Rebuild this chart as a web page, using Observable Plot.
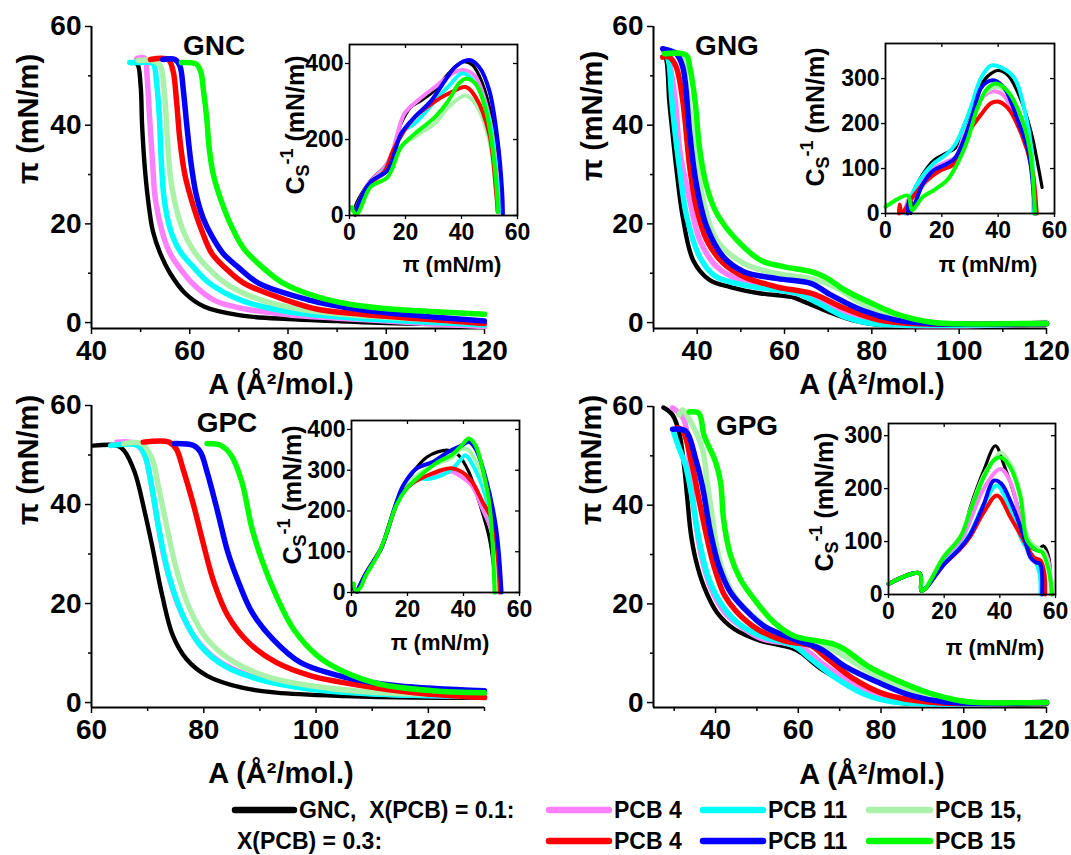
<!DOCTYPE html>
<html><head><meta charset="utf-8">
<script src="https://cdn.jsdelivr.net/npm/d3@7"></script>
<script src="https://cdn.jsdelivr.net/npm/@observablehq/plot@0.6"></script>
<style>
body{margin:0;background:#fff;}
#root{position:relative;width:1071px;height:855px;overflow:hidden;background:#fff;}
#root svg{position:absolute;left:0;top:0;}
</style></head><body><div id="root"></div>
<script>
// ---------- series ----------
const seriesNames = ["GNC", "PCB 4 (X=0.1)", "PCB 11 (X=0.1)", "PCB 15 (X=0.1)", "PCB 4 (X=0.3)", "PCB 11 (X=0.3)", "PCB 15 (X=0.3)"];
const seriesColors = ["#000000", "#ff80ff", "#00ffff", "#aaf2aa", "#ff0000", "#0000ff", "#00ff00"];
const legendRow1 = ["GNC,\u00a0\u00a0X(PCB) = 0.1:", "PCB 4", "PCB 11", "PCB 15,"];
const legendRow2 = ["X(PCB) = 0.3:", "PCB 4", "PCB 11", "PCB 15"];

// ---------- tick labels ----------
const piTicks = [0, 20, 40, 60];
const piMinor = [10, 30, 50];
const insetPiTicks = [0, 20, 40, 60];

// ---------- GNC : pi-A isotherms [A, pi] ----------
const gncIso = [
  [[48.2,52.6],[49.3,52.4],[50,48],[50.3,40],[50.8,32],[51.5,25],[52.5,18.5],[54,14],[56,10],[59,6],[63,3.2],[70,1.5],[80,0.7],[90,0.3],[100,-0.1],[110,-0.3],[120,-0.4]],
  [[49.2,53.5],[50.8,53.6],[51.3,50],[51.8,42],[52.4,33],[53,25],[54.5,18],[56,14],[58,11],[61,7.5],[65,4.5],[70,3],[80,1.6],[90,0.9],[100,0.3],[110,-0.3],[120,-0.8]],
  [[47.8,52.7],[50,52.7],[52.5,52.5],[53.2,49],[53.8,42],[54.2,33],[54.8,25],[56,19],[58,14.5],[60.8,11.2],[64,8],[70.5,4.5],[80,2.2],[90,1.2],[100,0.5],[110,0],[120,-0.5]],
  [[49.5,53.1],[52.5,53.1],[54,52],[54.8,47],[55.4,38],[56,30],[56.9,24.7],[58.5,19],[60.5,15],[63.6,11.2],[68,7.5],[74.8,4.5],[82,2.8],[90,1.8],[100,1.1],[110,0.5],[120,0]],
  [[52,53.3],[55.6,53.3],[56.6,51],[57.3,45],[58,37],[59,30],[60.4,24.7],[62.5,18.5],[64.5,14],[67.1,11.2],[71,8],[79.8,4.5],[86,2.7],[95,1.7],[105,0.9],[112,0.4],[120,-0.2]],
  [[54.5,53.3],[57,53.3],[58,52],[58.7,47],[59.4,40],[60.3,32],[61.3,26],[62.8,21],[64.5,17.5],[66.8,14],[69.9,11.2],[74,8],[84.6,4.5],[92,3],[100,2],[110,1.1],[120,0.3]],
  [[58.3,52.7],[61.3,52.4],[62.2,51],[62.8,47],[63.4,42],[64,35],[64.8,30],[66.4,24.7],[68.5,19.5],[71,15],[74.8,11.2],[79,8],[86,5.2],[92,3.8],[99,2.9],[110,2.2],[120,1.7]]
];
// GNC : compression modulus [pi, Cs^-1]
const gncCs = [
  [[2,2],[2,22],[7.5,92],[12.4,127],[14.8,154],[18.4,242],[22,286],[25.7,303],[30.5,330],[35.4,374],[40.2,404],[43.9,396],[47.5,347],[51.2,242],[53.6,110],[54.6,4]],
  [[2,2],[2.5,20],[7.5,90],[12.4,125],[15,160],[19.6,268],[24.5,303],[30.5,338],[37.8,378],[41.5,382],[45,365],[49.9,259],[53,92],[54.2,10]],
  [[2,2],[2.5,18],[7.5,85],[12.4,118],[15.5,165],[19.6,224],[23.3,242],[31.8,312],[36,345],[40.2,374],[45,347],[49.9,251],[52.9,66],[53.5,10]],
  [[2,2],[2.5,15],[7.5,82],[12.4,112],[15.5,160],[19.6,189],[23.3,207],[27,225],[30.5,242],[35.4,286],[41.5,316],[45,294],[49.9,198],[52.3,66],[52.9,10]],
  [[2,2],[2.5,15],[7.5,85],[12.4,115],[15.5,170],[19.6,224],[23.3,259],[29.3,294],[35.4,321],[41.5,338],[45,312],[49.9,215],[52.3,66],[52.9,10]],
  [[2,2],[2.5,18],[7.5,88],[13.6,119],[18.4,215],[23.3,259],[29.3,303],[34.2,356],[37.8,391],[42.7,409],[46.3,391],[49.9,330],[52.9,198],[54.5,66],[54.8,4]],
  [[0.8,22],[1.2,13],[2.7,4],[7.5,75],[13.6,101],[18.4,180],[23.3,215],[30.5,259],[35.4,303],[39,347],[41.5,360],[45,347],[48.7,277],[51.2,171],[52.6,66],[53,9]]
];

// ---------- GNG ----------
const gngIso = [
  [[32.1,55.5],[33,53],[33.6,45],[34.4,38],[35.2,31.5],[36.7,21.4],[39.1,12.6],[42.9,8.6],[47.6,7.2],[54.6,5.9],[61.6,5.2],[64.6,4.2],[70,2.2],[75.5,0.5],[81,-0.4],[120,-0.4]],
  [[32.5,55],[33.5,53],[35,45],[36,35],[38.3,24.8],[40.6,16.7],[44.5,11.3],[50.7,8.2],[58.4,6.6],[66.2,5.2],[74,1.8],[81.7,-0.2],[120,-0.2]],
  [[32.8,55.2],[33.5,53],[34.2,45],[35,38],[36,31],[37.6,21.5],[40.6,13.3],[44,9.5],[50.7,7.6],[58.4,6.6],[63,5.9],[67.8,3.9],[74,1.1],[80,-0.2],[120,-0.2]],
  [[33,55],[36.5,54.2],[37.5,48.4],[38.5,42],[39.5,35],[41.4,24.8],[44.5,16.7],[50.7,12],[58.4,9.9],[66.2,8.9],[71.6,7.2],[77.8,3.8],[85.6,1.1],[93.3,0],[120,0]],
  [[32.1,53.8],[33.6,53.8],[35.2,51.8],[36.7,45],[38.3,31.5],[39.8,23.4],[42.2,16.7],[46,12],[50.7,9.3],[58.4,7.2],[66.2,5.9],[74,2.8],[81.7,0.5],[89.5,-0.2],[120,-0.2]],
  [[32.1,55.5],[35.2,54.5],[36.7,51.8],[38.3,38.3],[39.8,28.1],[42.2,19.4],[46,13.3],[50.7,10.3],[58.4,8.9],[66.2,7.9],[70,5.9],[77.8,2.5],[85.6,0.5],[93.3,-0.2],[120,-0.2]],
  [[32.5,54.5],[37.5,54.2],[38.3,51.8],[39.5,45],[40.6,35],[42.2,27.5],[44.5,22.1],[49.1,16.7],[54.6,12.6],[60,11.3],[66.2,10.3],[69.3,9.2],[74,6.5],[80.2,3.8],[86.4,1.5],[93.3,0.1],[97.2,-0.2],[120,-0.2]]
];
const gngCs = [
  [[9,0],[9.7,44],[13.3,88],[16.9,117],[21.7,135],[24.8,146],[26.6,176],[30.2,227],[33.8,285],[37.4,311],[39.9,318],[43.5,307],[48.3,249],[51.9,176],[54.3,102],[55.6,58]],
  [[7,0],[8,30],[10,40],[13.3,75],[16.9,100],[21.7,115],[24.8,125],[28,175],[32,230],[35,262],[38.5,272],[41.5,265],[45.5,225],[49.5,170],[52.5,90],[53.5,0]],
  [[7.2,0],[8,20],[12,73],[16.9,110],[21.7,132],[24.8,154],[30.2,234],[33.8,300],[37.4,329],[41,325],[45.9,300],[49.5,227],[51.9,139],[52.5,0]],
  [[8,0],[9,30],[13.3,60],[16.9,85],[21.7,105],[24.8,120],[29,185],[32.6,245],[36,272],[39.3,282],[43,270],[47.5,222],[51,150],[53,0]],
  [[4.8,0],[5,20],[5.8,2],[9.7,37],[14.5,73],[19.3,95],[24.2,110],[29,176],[33.8,219],[37.4,245],[39.9,249],[43.5,234],[48.3,176],[51.9,102],[53.7,0]],
  [[7.9,0],[8.2,29],[9,5],[13.3,66],[16.9,95],[21.7,110],[24.8,124],[30.2,205],[33.8,278],[36.2,293],[38.6,296],[42.3,278],[47.1,205],[50.7,139],[53.1,0]],
  [[0,15],[7.9,40],[9,15],[9.5,7],[13.3,37],[16.9,51],[21.7,73],[24.8,102],[29,161],[32.6,234],[36.2,278],[39.3,289],[43.5,271],[48.3,212],[51.3,139],[53.1,0]]
];

// ---------- GPC ----------
const gpcIso = [
  [[60.3,51.9],[64.6,51.9],[65.8,50.9],[67.7,46.5],[69.5,38.4],[70.8,31.7],[72.6,21.6],[74.5,13.5],[76.9,8.8],[80.6,5.4],[86.8,3],[92.9,2],[105.2,1.3],[117.5,1],[130,1]],
  [[64.5,52.6],[67.5,52.4],[69.3,50.5],[70.5,45],[71.7,37],[73.2,28],[75.5,19.5],[78.5,13],[82.5,8.5],[88,5.5],[95,3.5],[105,2.2],[117,1.5],[130,1.2]],
  [[63.4,51.9],[68.3,51.9],[69.5,49.9],[70.8,43.2],[72,35.1],[73.8,25.6],[76.3,17.5],[79.4,11.5],[83.7,7.4],[89.8,4.7],[99.1,2.7],[111.4,1.7],[130,1.3]],
  [[65.8,52.3],[69,52.3],[70.8,49.2],[72,43.2],[73.5,35.1],[75.1,27],[77.5,18.9],[80.6,12.8],[85.5,8.1],[91.7,5.1],[99.1,3.4],[111.4,2],[130,1.7]],
  [[69.2,52.6],[73.8,52.6],[75.1,51.2],[76.3,47.2],[78.2,39.8],[80,31.7],[81.8,24.3],[84.3,17.5],[88,12.1],[92.9,8.1],[99.1,5.4],[108.3,3.4],[117.5,2],[130,1]],
  [[74.8,52.3],[78.2,51.9],[79.4,50.6],[80.6,46.5],[82.5,38.4],[84.3,30.3],[86.2,24.3],[88.6,18.2],[92.3,12.8],[97.2,8.1],[105.2,5.1],[114.5,3.4],[130,2.4]],
  [[80.6,52.3],[83.1,51.9],[84.9,49.9],[86.8,44.5],[88.6,35.1],[90.5,28.3],[92.9,21.6],[96,14.8],[100.3,9.4],[105.2,6.1],[111.4,3.7],[120.6,2.4],[130,2]]
];
const gpcCs = [
  [[0.5,20],[1,5],[2,2],[5,45],[10.5,107],[12.3,140],[16,222],[19.7,271],[23.4,308],[27.1,333],[30.8,345],[34.5,349],[38.2,337],[41.9,296],[45.6,222],[49.3,131],[51.7,0]],
  [[2,2],[5,45],[10.5,107],[12.3,140],[16,215],[19.7,255],[23.4,275],[27.1,285],[32,290],[36,296],[39,285],[43,262],[46.8,205],[50,150],[52.5,0]],
  [[2,2],[5,45],[10.5,107],[12.3,140],[16,215],[19.7,260],[23.4,279],[28,279],[34.5,296],[38.8,324],[40.6,337],[44,304],[49,205],[51.5,0]],
  [[2,2],[5,45],[10.5,107],[12.3,140],[16,220],[19.7,265],[25,295],[30,315],[35.5,330],[39.4,353],[41.9,349],[45.6,304],[49.3,215],[51.7,0]],
  [[2,2],[5,45],[10.5,107],[12.3,140],[16,215],[18.5,246],[22.2,271],[27.1,287],[32,300],[35.7,305],[39.4,296],[43.1,271],[46.8,222],[50.5,172],[53,0]],
  [[2,2],[5,45],[10.5,107],[12.3,140],[16,220],[18.5,263],[23.4,305],[29,320],[34.5,345],[39.4,361],[41.9,370],[44.3,353],[48,279],[51.7,156],[53.6,0]],
  [[0.8,22],[1.5,5],[3,10],[5,40],[9.9,99],[12.3,140],[16,214],[19.7,255],[24.6,287],[30.8,320],[35.7,337],[39.4,361],[41.9,378],[44.3,361],[46.8,304],[49.3,214],[51.1,0]]
];

// ---------- GPG ----------
const gpgIso = [
  [[27.4,59.8],[29.6,58.3],[31.2,54.7],[32.4,47.9],[33.2,41.1],[34,34.4],[35.2,29],[37.2,23.5],[40.4,18.2],[44.5,14.9],[50.9,12.5],[58.2,11.1],[60.6,10.1],[65.5,6.8],[71.2,4.1],[77.6,1.4],[84.1,0],[92,-0.3],[120,-0.3]],
  [[29.6,59.7],[30.8,59],[32.4,57.3],[33.8,48],[35,38],[36.5,30],[39,23],[42.5,18],[46,15.5],[51,13],[58,11.8],[62,10.5],[66,7.8],[72,4.5],[79,1.6],[86,0.1],[120,0]],
  [[29.9,54.7],[31,52],[32.8,47.9],[34.4,41.1],[36,33.1],[38,26],[41,20.5],[45.3,16.2],[50.9,13.5],[59,11.5],[63.1,8.8],[69.6,4.7],[76,1.7],[83.3,0.1],[120,0]],
  [[31.2,58.3],[32,59.3],[33.6,57.5],[36.8,51.4],[38,44.6],[39.2,37.8],[40.4,31],[42.5,25],[45.5,20.5],[50.9,16.2],[55,13.5],[60,12.5],[66,11.5],[70,10],[76,6.8],[84,3.5],[92,1.2],[100,0.1],[120,0]],
  [[30.7,55.7],[32,55.2],[34.4,47.9],[36,41.1],[38,33.1],[39.6,27.7],[42,22],[45,18.5],[50.1,14.9],[56.6,12.5],[63.1,11.5],[67.1,8.8],[73.6,4.7],[80.9,1.7],[91.4,0.1],[120,0]],
  [[29.6,55.4],[32.8,55],[35.2,49.3],[36.8,43.9],[38.8,34.4],[40.8,27.7],[43.5,22.5],[47,19],[51.7,15.5],[59,12.8],[65.5,10.8],[71.2,7.4],[79.3,4.1],[87.4,1.4],[95.5,0.1],[120,0]],
  [[33.6,58.9],[36,58.6],[37.2,54.2],[40,48.8],[41.2,44.7],[42,36.7],[43.6,29.9],[46,25],[49.3,21],[54.2,16.2],[59,13.5],[64.7,12.5],[68.7,11.8],[71.2,10.8],[76.8,7.4],[83.3,4.7],[91.4,2],[99.5,0.3],[103.6,0],[120,0]]
];
const gpgCs = [
  [[0,20],[11.2,40],[11.8,7],[13.2,11],[19.8,62],[25.8,100],[29.4,165],[34.2,234],[38.4,281],[41.4,246],[46.2,171],[49.2,102],[53.4,83],[55.6,92],[57.6,70],[58.2,0]],
  [[0,20],[11.2,40],[11.8,7],[13.2,11],[19.8,60],[25.8,98],[29.4,140],[34.2,200],[40.2,237],[44,210],[49.2,110],[53.4,85],[55.8,82],[57.6,60],[58.4,0]],
  [[0,20],[11.2,40],[11.8,7],[13.2,11],[19.8,58],[25.8,90],[29.4,116],[34.2,170],[39,206],[43.8,158],[48.6,96],[52.2,70],[54.3,40],[54.6,0]],
  [[0,20],[11.2,40],[11.8,7],[13.2,11],[19.8,72],[25.8,110],[29.4,160],[34.2,225],[39,262],[40.4,268],[44,245],[47.4,190],[49.8,110],[53.4,88],[55.6,82],[57.8,45],[58.6,0]],
  [[0,20],[11.2,40],[11.8,7],[13.2,11],[19.8,56],[25.8,86],[29.4,110],[34.2,155],[39,187],[43.8,146],[48.6,102],[52.2,70],[54.6,64],[56,40],[56.3,0]],
  [[0,20],[11.2,40],[11.8,7],[13.2,11],[19.8,56],[25.8,88],[29.4,114],[34.2,170],[37.8,215],[40.4,210],[44,174],[48.6,110],[51,70],[52.8,61],[54.4,58],[55.2,0]],
  [[0,20],[11.2,40],[11.8,7],[13.2,11],[19.8,70],[25.8,108],[29.4,158],[34.2,221],[37.8,253],[40.2,259],[43.8,240],[47.4,184],[49.8,102],[53.4,83],[55.2,80],[57.6,45],[58.8,0]]
];

// ---------- layout (pixel geometry) ----------
const panels = [
  {title:"GNC", iso:gncIso, cs:gncCs, main:[91,484,26,328], xDom:[40,120], xTicks:[40,60,80,100,120], xMinor:[50,70,90,110], yDom:[-1.2,60],
   inset:[349,517,44,215], csMax:450, csTicks:[0,200,400], titleXY:[214,55], xLabXY:[281,394], yLabXY:[38,119], inXLabXY:[452,272], inYLabXY:[304,125]},
  {title:"GNG", iso:gngIso, cs:gngCs, main:[653,1046,26,328], xDom:[30,120], xTicks:[40,60,80,100,120], xMinor:[30,50,70,90,110], yDom:[-1.2,60],
   inset:[885,1054,43,213], csMax:378, csTicks:[0,100,200,300], titleXY:[727,55], xLabXY:[872,394], yLabXY:[602,116], inXLabXY:[988,272], inYLabXY:[824,117]},
  {title:"GPC", iso:gpcIso, cs:gpcCs, main:[91,484,405,707], xDom:[60,130], xTicks:[60,80,100,120], xMinor:[70,90,110,130], yDom:[-1,60],
   inset:[351,519,420,592], csMax:422, csTicks:[0,100,200,300,400], titleXY:[227,432], xLabXY:[281,783], yLabXY:[38,460], inXLabXY:[440,650], inYLabXY:[301,495]},
  {title:"GPG", iso:gpgIso, cs:gpgCs, main:[653,1046,406,707], xDom:[25,120], xTicks:[40,60,80,100,120], xMinor:[30,50,70,90,110], yDom:[-1,60],
   inset:[888,1055,423,594], csMax:323, csTicks:[0,100,200,300], titleXY:[747,435], xLabXY:[872,784], yLabXY:[601,460], inXLabXY:[995,655], inYLabXY:[833,502]}
];

const FONT = "'Liberation Sans', Arial, Helvetica, sans-serif";
const W = 1071, H = 855;
const root = document.getElementById("root");
const baseStyle = `position:absolute;left:0;top:0;background:transparent;overflow:visible;font-family:${FONT};color:#000;`;

function lineMarks(sets, width) {
  return sets.map((pts, i) => Plot.line(pts, {
    x: d => d[0], y: d => d[1], stroke: seriesColors[i],
    strokeWidth: i === 0 ? width * 0.8 : width, curve: "catmull-rom",
    strokeLinecap: "round", strokeLinejoin: "round"
  }));
}

function mainPlot(p) {
  const [L, R, T, B] = p.main;
  return Plot.plot({
    width: W, height: H, marginLeft: L, marginRight: W - R, marginTop: T, marginBottom: H - B,
    x: {domain: p.xDom}, y: {domain: p.yDom},
    style: baseStyle,
    marks: [
      Plot.axisX({ticks: p.xTicks, tickSize: 6, tickPadding: 6, tickFormat: d => String(d), fontSize: 28, fontWeight: "bold", label: null, strokeWidth: 1.5}),
      Plot.axisX({ticks: p.xMinor, tickSize: 4, text: null, label: null, strokeWidth: 1.5}),
      Plot.axisY({ticks: piTicks, tickSize: 6, tickPadding: 4, tickFormat: d => String(d), fontSize: 28, fontWeight: "bold", label: null, strokeWidth: 1.5}),
      Plot.axisY({ticks: piMinor, tickSize: 3, text: null, label: null, strokeWidth: 1.5}),
      Plot.ruleX([p.xDom[0]], {stroke: "#000", strokeWidth: 2}),
      Plot.ruleY([p.yDom[0]], {stroke: "#000", strokeWidth: 2}),
      ...lineMarks(p.iso, 5.5)
    ]
  });
}

function insetPlot(p) {
  const [L, R, T, B] = p.inset;
  const kx = 60 * 4 / (R - L), ky = p.csMax * 4 / (B - T);
  return Plot.plot({
    width: W, height: H, marginLeft: L, marginRight: W - R, marginTop: T, marginBottom: H - B,
    x: {domain: [0, 60]}, y: {domain: [0, p.csMax]},
    style: baseStyle,
    marks: [
      Plot.frame({fill: "white", stroke: "none"}),
      ...lineMarks(p.cs, 4),
      Plot.axisX({ticks: insetPiTicks, tickSize: 4, tickPadding: 4, tickFormat: d => String(d), fontSize: 23, fontWeight: "bold", label: null, strokeWidth: 1.3}),
      Plot.axisY({ticks: p.csTicks, tickSize: 4, tickPadding: 2, tickFormat: d => String(d), fontSize: 23, fontWeight: "bold", label: null, strokeWidth: 1.3}),
      Plot.ruleY(p.csTicks, {y: d => d, x1: 60 - kx, x2: 60, stroke: "#000", strokeWidth: 1.3}),
      Plot.ruleX(insetPiTicks.slice(1, -1), {x: d => d, y1: p.csMax - ky, y2: p.csMax, stroke: "#000", strokeWidth: 1.3}),
      Plot.frame({stroke: "#000", strokeWidth: 1.8})
    ]
  });
}

panels.forEach(p => { root.appendChild(mainPlot(p)); root.appendChild(insetPlot(p)); });

// ---------- text overlay ----------
const svg = d3.select(root).append("svg").attr("width", W).attr("height", H)
  .attr("style", baseStyle).attr("font-family", FONT).attr("font-weight", "bold");

panels.forEach(p => {
  svg.append("text").attr("x", p.titleXY[0]).attr("y", p.titleXY[1]).attr("text-anchor", "middle")
    .attr("font-size", 28).text(p.title);
  svg.append("text").attr("x", p.xLabXY[0]).attr("y", p.xLabXY[1]).attr("text-anchor", "middle")
    .attr("font-size", 29).text("A (Å²/mol.)");
  svg.append("text").attr("transform", `translate(${p.yLabXY[0]},${p.yLabXY[1]}) rotate(-90)`).attr("text-anchor", "middle")
    .attr("font-size", 29).text("π (mN/m)");
  svg.append("text").attr("x", p.inXLabXY[0]).attr("y", p.inXLabXY[1]).attr("text-anchor", "middle")
    .attr("font-size", 22).text("π (mN/m)");
  const t = svg.append("text").attr("transform", `translate(${p.inYLabXY[0]},${p.inYLabXY[1]}) rotate(-90)`)
    .attr("text-anchor", "middle").attr("font-size", 25);
  t.append("tspan").text("C");
  t.append("tspan").attr("font-size", 18).attr("dy", 5).text("S");
  t.append("tspan").attr("font-size", 18).attr("dy", -16).text("-1");
  t.append("tspan").attr("dy", 11).text(" (mN/m)");
});

// ---------- legend ----------
const legRows = [810, 841];
const lineCols = [[549, 609], [703, 763], [869, 930]];
const g = svg.append("g").attr("font-size", 23);
g.append("line").attr("x1", 235).attr("x2", 294).attr("y1", legRows[0]).attr("y2", legRows[0])
  .attr("stroke", seriesColors[0]).attr("stroke-width", 6.5).attr("stroke-linecap", "round");
g.append("text").attr("x", 299).attr("y", legRows[0] + 8).text(legendRow1[0]);
g.append("text").attr("x", 237).attr("y", legRows[1] + 8).text(legendRow2[0]);
for (let c = 0; c < 3; c++) {
  [0, 1].forEach(r => {
    const idx = 1 + c + 3 * r;
    const y = legRows[r];
    g.append("line").attr("x1", lineCols[c][0]).attr("x2", lineCols[c][1]).attr("y1", y).attr("y2", y)
      .attr("stroke", seriesColors[idx]).attr("stroke-width", 6.5).attr("stroke-linecap", "round");
    g.append("text").attr("x", lineCols[c][1] + 5).attr("y", y + 8).text((r === 0 ? legendRow1 : legendRow2)[c + 1]);
  });
}
</script></body></html>
